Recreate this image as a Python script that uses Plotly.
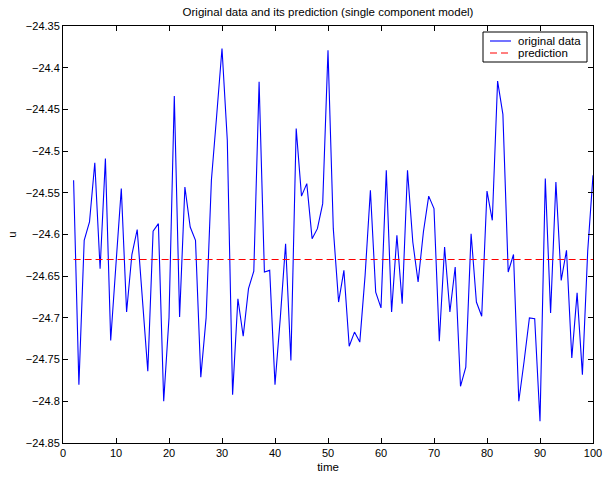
import plotly.graph_objects as go

time = list(range(2, 101))
original = [
    -24.535, -24.780, -24.607, -24.585, -24.514, -24.641, -24.509, -24.727, -24.635, -24.545,
    -24.693, -24.624, -24.594, -24.685, -24.764, -24.596, -24.587, -24.800, -24.700, -24.434,
    -24.699, -24.543, -24.591, -24.607, -24.771, -24.700, -24.535, -24.457, -24.377, -24.487,
    -24.792, -24.677, -24.722, -24.665, -24.644, -24.417, -24.645, -24.643, -24.780, -24.700,
    -24.611, -24.751, -24.473, -24.554, -24.539, -24.605, -24.593, -24.563, -24.379, -24.593,
    -24.681, -24.643, -24.734, -24.717, -24.729, -24.649, -24.547, -24.669, -24.688, -24.523,
    -24.693, -24.601, -24.683, -24.523, -24.609, -24.657, -24.597, -24.554, -24.569, -24.728,
    -24.615, -24.693, -24.639, -24.782, -24.759, -24.599, -24.681, -24.698, -24.548, -24.583,
    -24.416, -24.456, -24.645, -24.624, -24.800, -24.752, -24.700, -24.701, -24.824, -24.533,
    -24.694, -24.537, -24.655, -24.619, -24.748, -24.670, -24.768, -24.620, -24.529,
]
prediction_value = -24.63
prediction = [prediction_value] * len(time)

series_names = ["original data", "prediction"]
x_ticks = [0, 10, 20, 30, 40, 50, 60, 70, 80, 90, 100]
y_ticks = [-24.85, -24.8, -24.75, -24.7, -24.65, -24.6, -24.55, -24.5, -24.45, -24.4, -24.35]
y_tick_text = ["\u221224.85", "\u221224.8", "\u221224.75", "\u221224.7", "\u221224.65", "\u221224.6",
               "\u221224.55", "\u221224.5", "\u221224.45", "\u221224.4", "\u221224.35"]

BLUE = "#0000ff"
RED = "#ff0000"
DASH = "7px,4px"

fig = go.Figure()
fig.add_trace(go.Scatter(x=time, y=original, mode="lines", name=series_names[0],
                         line=dict(color=BLUE, width=1.1), showlegend=False))
fig.add_trace(go.Scatter(x=time, y=prediction, mode="lines", name=series_names[1],
                         line=dict(color=RED, width=1.1, dash=DASH), showlegend=False))

font = "Liberation Sans, Arial, Helvetica, sans-serif"

# Legend box drawn in paper coordinates (plot area spans 63..593 x 26..443 px)
def px_x(p):
    return (p - 63) / 530.0

def px_y(p):
    return (443 - p) / 417.0

fig.add_shape(type="rect", xref="paper", yref="paper",
              x0=px_x(483), x1=px_x(587), y0=px_y(62), y1=px_y(32),
              line=dict(color="black", width=1), fillcolor="white", layer="above")
legend_rows = [(41, BLUE, "solid"), (53, RED, DASH)]
for name, (ypx, col, dash) in zip(series_names, legend_rows):
    fig.add_shape(type="line", xref="paper", yref="paper",
                  x0=px_x(490), x1=px_x(511), y0=px_y(ypx), y1=px_y(ypx),
                  line=dict(color=col, width=1.1, dash=dash), layer="above")
    fig.add_annotation(xref="paper", yref="paper", x=px_x(516), y=px_y(ypx),
                       xanchor="left", yanchor="middle", showarrow=False, text=name,
                       font=dict(family=font, size=11.5, color="black"))

axis_common = dict(showgrid=False, zeroline=False, showline=True, linecolor="black", linewidth=1,
                   mirror="ticks", ticks="inside", ticklen=5, tickcolor="black", automargin=False,
                   tickfont=dict(family=font, size=11, color="black"))
fig.update_layout(
    width=604, height=479,
    margin=dict(l=63, r=11, t=26, b=36, autoexpand=False),
    paper_bgcolor="white", plot_bgcolor="white",
    title=dict(text="Original data and its prediction (single component model)",
               font=dict(family=font, size=11.5, color="black"), automargin=False,
               x=(63 + 593) / 2 / 604, xanchor="center", y=1 - 12 / 479, yanchor="middle"),
    xaxis=dict(range=[0, 100], tickvals=x_ticks,
               title=dict(text="time", font=dict(family=font, size=11.5, color="black"), standoff=4),
               **axis_common),
    yaxis=dict(range=[-24.85, -24.35], tickvals=y_ticks, ticktext=y_tick_text,
               title=dict(text="u", font=dict(family=font, size=11.5, color="black"), standoff=6),
               **axis_common),
    showlegend=False,
)
fig.write_html("out.html")
